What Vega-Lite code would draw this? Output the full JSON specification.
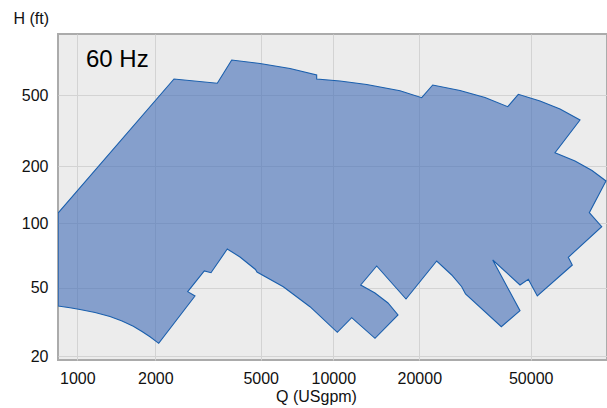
{
  "$schema": "https://vega.github.io/schema/vega-lite/v6.json",
  "autosize": {"type": "none"},
  "width": 549,
  "height": 326,
  "padding": {"left": 58, "top": 34, "right": 0, "bottom": 48},
  "background": "white",
  "config": {
    "font": "Liberation Sans",
    "view": {"fill": "#ececec", "stroke": "#ababab", "strokeWidth": 2},
    "axis": {
      "domain": false,
      "ticks": false,
      "tickSize": 0,
      "grid": true,
      "gridColor": "#d3d3d3",
      "gridWidth": 1,
      "labelFont": "Liberation Sans",
      "labelFontSize": 16,
      "labelColor": "#111111",
      "titleFont": "Liberation Sans",
      "titleFontSize": 16,
      "titleFontWeight": "normal",
      "titleColor": "#111111"
    }
  },
  "datasets": {
    "envelope": [
      {"i": 1, "q": 842, "h": 112.9},
      {"i": 2, "q": 2353, "h": 614.9},
      {"i": 3, "q": 3428, "h": 581.7},
      {"i": 4, "q": 3886, "h": 786.2},
      {"i": 5, "q": 4969, "h": 751.4},
      {"i": 6, "q": 6614, "h": 704.3},
      {"i": 7, "q": 8533, "h": 647.6},
      {"i": 8, "q": 8533, "h": 614.9},
      {"i": 9, "q": 10555, "h": 599.2},
      {"i": 10, "q": 13090, "h": 572.7},
      {"i": 11, "q": 17120, "h": 528.6},
      {"i": 12, "q": 20398, "h": 482.9},
      {"i": 13, "q": 22334, "h": 569.0},
      {"i": 14, "q": 27953, "h": 530.0},
      {"i": 15, "q": 34337, "h": 484.1},
      {"i": 16, "q": 41387, "h": 429.9},
      {"i": 17, "q": 45157, "h": 504.5},
      {"i": 18, "q": 53976, "h": 462.7},
      {"i": 19, "q": 63628, "h": 417.4},
      {"i": 20, "q": 75007, "h": 362.2},
      {"i": 21, "q": 61065, "h": 237.4},
      {"i": 22, "q": 71985, "h": 213.3},
      {"i": 23, "q": 82790, "h": 189.4},
      {"i": 24, "q": 92896, "h": 166.7},
      {"i": 25, "q": 80970, "h": 113.4},
      {"i": 26, "q": 89670, "h": 96.1},
      {"i": 27, "q": 68124, "h": 69.25},
      {"i": 28, "q": 70403, "h": 63.76},
      {"i": 29, "q": 52790, "h": 44.73},
      {"i": 30, "q": 49030, "h": 54.71},
      {"i": 31, "q": 45793, "h": 51.46},
      {"i": 32, "q": 36582, "h": 67.27},
      {"i": 33, "q": 45793, "h": 36.72},
      {"i": 34, "q": 39264, "h": 29.63},
      {"i": 35, "q": 29247, "h": 45.95},
      {"i": 36, "q": 28347, "h": 50.53},
      {"i": 37, "q": 26109, "h": 57.3},
      {"i": 38, "q": 23078, "h": 66.55},
      {"i": 39, "q": 17966, "h": 42.96},
      {"i": 40, "q": 14188, "h": 63.08},
      {"i": 41, "q": 12471, "h": 51.46},
      {"i": 42, "q": 13994, "h": 46.57},
      {"i": 43, "q": 15540, "h": 40.72},
      {"i": 44, "q": 16845, "h": 34.67},
      {"i": 45, "q": 13994, "h": 25.36},
      {"i": 46, "q": 11597, "h": 33.43},
      {"i": 47, "q": 10328, "h": 27.48},
      {"i": 48, "q": 8005, "h": 38.75},
      {"i": 49, "q": 6204, "h": 50.53},
      {"i": 50, "q": 4841, "h": 59.16},
      {"i": 51, "q": 4778, "h": 60.77},
      {"i": 52, "q": 4176, "h": 69.48},
      {"i": 53, "q": 3740, "h": 75.69},
      {"i": 54, "q": 3246, "h": 58.72},
      {"i": 55, "q": 3062, "h": 59.8},
      {"i": 56, "q": 2651, "h": 47.39},
      {"i": 57, "q": 2824, "h": 44.73},
      {"i": 58, "q": 2060, "h": 23.71},
      {"i": 59, "q": 1908, "h": 25.91},
      {"i": 60, "q": 1777, "h": 27.78},
      {"i": 61, "q": 1645, "h": 29.79},
      {"i": 62, "q": 1488, "h": 31.98},
      {"i": 63, "q": 1337, "h": 33.97},
      {"i": 64, "q": 1171, "h": 35.85},
      {"i": 65, "q": 1024, "h": 37.32},
      {"i": 66, "q": 937, "h": 38.18},
      {"i": 67, "q": 842, "h": 39.12},
      {"i": 68, "q": 842, "h": 112.9}
    ],
    "label": [
      {"q": 1080, "h": 718, "text": "60 Hz"}
    ]
  },
  "layer": [
    {
      "data": {"name": "envelope"},
      "mark": {
        "type": "line",
        "fill": "#4670b8",
        "fillOpacity": 0.62,
        "stroke": "#1a5fad",
        "strokeWidth": 1.1,
        "strokeJoin": "miter",
        "clip": true
      },
      "encoding": {
        "x": {
          "field": "q",
          "type": "quantitative",
          "scale": {
            "type": "log",
            "domain": [842, 1000, 2000, 5000, 10000, 20000, 50000, 93650],
            "range": [0, 19.3, 97.3, 202.7, 275.3, 361.3, 472.7, 549],
            "nice": false,
            "zero": false
          },
          "axis": {
            "values": [1000, 2000, 5000, 10000, 20000, 50000],
            "format": "d",
            "labelPadding": 10,
            "title": "Q (USgpm)",
            "titleX": 258,
            "titleY": 41,
            "titleAlign": "center",
            "titleBaseline": "alphabetic"
          }
        },
        "y": {
          "field": "h",
          "type": "quantitative",
          "scale": {
            "type": "log",
            "domain": [19, 20, 50, 100, 200, 500, 1100],
            "range": [326, 322, 253.7, 189, 132, 61, 0],
            "nice": false,
            "zero": false
          },
          "axis": {
            "values": [20, 50, 100, 200, 500],
            "format": "d",
            "labelPadding": 10,
            "title": "H (ft)",
            "titleAngle": 0,
            "titleX": -45,
            "titleY": -10.5,
            "titleAlign": "left",
            "titleBaseline": "alphabetic"
          }
        },
        "order": {"field": "i", "type": "quantitative"}
      }
    },
    {
      "data": {"name": "label"},
      "mark": {"type": "text", "align": "left", "baseline": "alphabetic", "fontSize": 24, "font": "Liberation Sans", "color": "#000000"},
      "encoding": {
        "x": {"field": "q", "type": "quantitative"},
        "y": {"field": "h", "type": "quantitative"},
        "text": {"field": "text"}
      }
    }
  ]
}
